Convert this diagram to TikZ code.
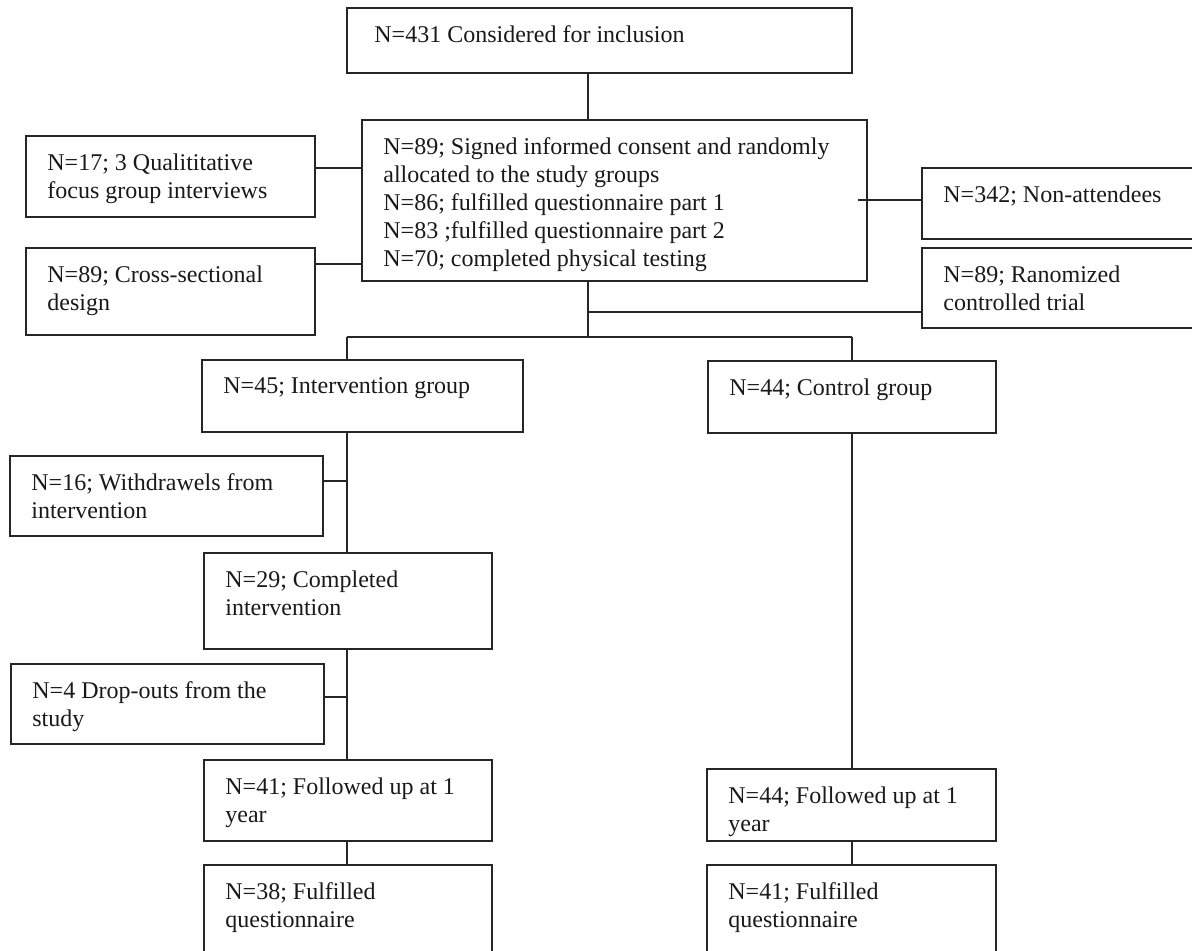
\documentclass[tikz,border=0pt]{standalone}
\usepackage{fontspec}
\setmainfont{Liberation Serif}
\usetikzlibrary{calc}
\tikzset{
  box/.style 2 args={draw=black!85, line width=1pt, anchor=north west, inner sep=0pt, outer sep=0pt,
    minimum width=#1*0.5pt, minimum height=#2*0.5pt},
  txt/.style={anchor=north west, inner sep=0pt, align=left, xshift=10.5pt, yshift=-8.8pt,
    font=\fontsize{12}{14}\selectfont, text=black!90},
  link/.style={draw=black!85, line width=1pt}
}

\begin{document}
\begin{tikzpicture}[x=0.5pt,y=-0.5pt]
  \useasboundingbox (0,0) rectangle (1192,951);

  % boxes
  \node[box={505}{65}, label={[txt,xshift=3pt]north west:{N=431 Considered for inclusion}}] (top) at (347,8) {};
  \node[box={505}{161}, label={[txt]north west:{N=89; Signed informed consent and randomly\\allocated to the study groups\\N=86; fulfilled questionnaire part 1\\N=83 ;fulfilled questionnaire part 2\\N=70; completed physical testing}}] (mid) at (362,120) {};
  \node[box={289}{81}, label={[txt]north west:{N=17; 3 Qualititative\\focus group interviews}}] (qual) at (26,136) {};
  \node[box={289}{87}, label={[txt]north west:{N=89; Cross-sectional\\design}}] (cross) at (26,248) {};
  \node[box={290}{71}, label={[txt]north west:{N=342; Non-attendees}}] (nonatt) at (922,168) {};
  \node[box={290}{80}, label={[txt]north west:{N=89; Ranomized\\controlled trial}}] (rct) at (922,248) {};
  \node[box={321}{72}, label={[txt]north west:{N=45; Intervention group}}] (interv) at (202,360) {};
  \node[box={288}{72}, label={[txt]north west:{N=44; Control group}}] (control) at (708,361) {};
  \node[box={313}{80}, label={[txt]north west:{N=16; Withdrawels from\\intervention}}] (withdr) at (10,456) {};
  \node[box={288}{96}, label={[txt]north west:{N=29; Completed\\intervention}}] (compl) at (204,553) {};
  \node[box={313}{80}, label={[txt]north west:{N=4 Drop-outs from the\\study}}] (drop) at (11,664) {};
  \node[box={288}{81}, label={[txt]north west:{N=41; Followed up at 1\\year}}] (followL) at (204,760) {};
  \node[box={289}{72}, label={[txt]north west:{N=44; Followed up at 1\\year}}] (followR) at (707,769) {};
  \node[box={288}{100}, label={[txt]north west:{N=38; Fulfilled\\questionnaire}}] (fulfL) at (204,865) {};
  \node[box={289}{100}, label={[txt]north west:{N=41; Fulfilled\\questionnaire}}] (fulfR) at (707,865) {};

  % junction points
  \coordinate (mx) at (588,0);
  \coordinate (qj) at (0,168);
  \coordinate (cj) at (0,264);
  \coordinate (rj) at (588,312);
  \coordinate (split) at (588,337);
  \coordinate (ls) at (347,337);
  \coordinate (rs) at (852,337);
  \coordinate (wj) at (347,481);
  \coordinate (dj) at (347,697);

  % connectors
  \draw[link] (top.south -| mx) -- (mid.north -| mx);
  \draw[link] (qual.east |- qj) -- (mid.west |- qj);
  \draw[link] (cross.east |- cj) -- (mid.west |- cj);
  \draw[link] ($(mid.east)+(-9,0)$) -- (mid.east -| nonatt.west);
  \draw[link] (mid.south -| split) -- (split);
  \draw[link] (rj) -- (rj -| rct.west);
  \draw[link] (ls) -- (rs);
  \draw[link] (ls) -- (interv.north -| ls);
  \draw[link] (rs) -- (control.north -| rs);
  \draw[link] (interv.south -| ls) -- (compl.north -| ls);
  \draw[link] (withdr.east |- wj) -- (wj);
  \draw[link] (compl.south -| ls) -- (followL.north -| ls);
  \draw[link] (drop.east |- dj) -- (dj);
  \draw[link] (followL.south -| ls) -- (fulfL.north -| ls);
  \draw[link] (control.south -| rs) -- (followR.north -| rs);
  \draw[link] (followR.south -| rs) -- (fulfR.north -| rs);
\end{tikzpicture}
\end{document}
